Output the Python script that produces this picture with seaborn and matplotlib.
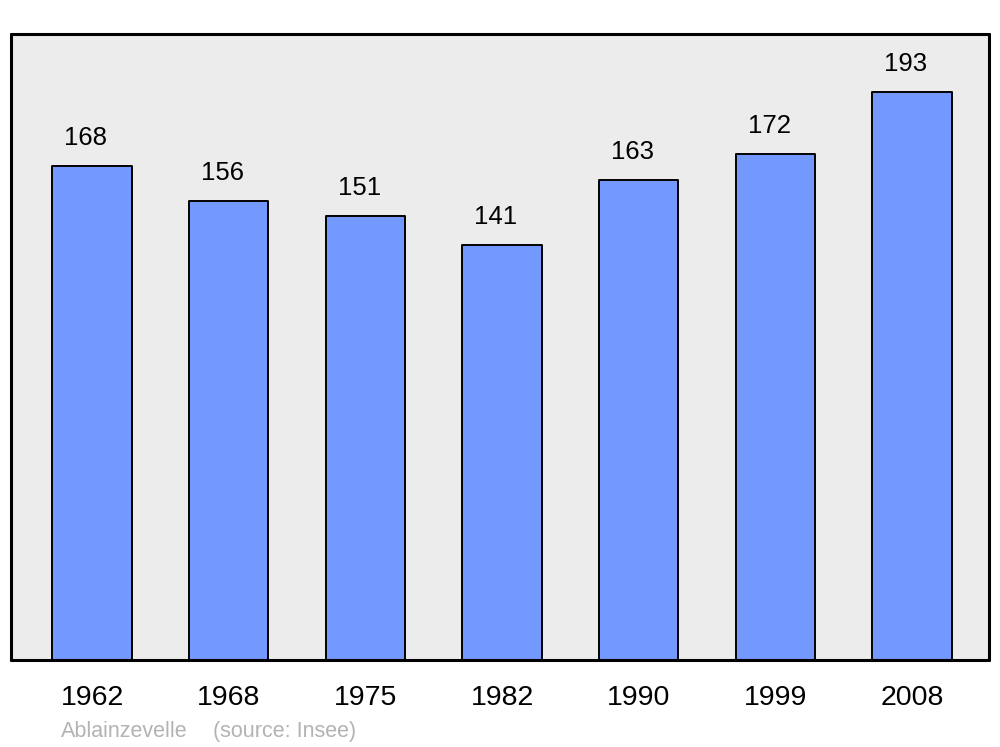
import matplotlib
matplotlib.use("Agg")
import matplotlib.pyplot as plt
import pandas as pd
import seaborn as sns

YEARS = ["1962", "1968", "1975", "1982", "1990", "1999", "2008"]
POPULATION = [168, 156, 151, 141, 163, 172, 193]
COMMUNE = "Ablainzevelle"
SOURCE = "(source: Insee)"

BAR = "#7399ff"
BG = "#ececec"


def main():
    sns.set_style("white")
    plt.rcParams["font.family"] = ["Liberation Sans", "DejaVu Sans"]
    plt.rcParams["text.color"] = "black"
    plt.rcParams["xtick.color"] = "black"

    df = pd.DataFrame({"year": YEARS, "pop": POPULATION})
    fig = plt.figure(figsize=(10, 7.47), dpi=100)
    ax = fig.add_axes([0.011, 0.1165, 0.978, 0.838])
    ax.set_facecolor(BG)

    sns.barplot(data=df, x="year", y="pop", order=YEARS, color=BAR,
                saturation=1, width=0.58, edgecolor="black", linewidth=1.4,
                ax=ax)
    for p in ax.patches:
        p.set_joinstyle("round")

    # value labels sit a touch left of the bar centre in the original
    for i, v in enumerate(POPULATION):
        ax.annotate(f"{v}", (i, v), xytext=(-4.5, 20), textcoords="offset points",
                    ha="center", va="center", fontsize=18.5, color="black")

    ax.set_xlim(-0.593, 6.563)
    ax.set_ylim(0, 212.7)
    ax.set_yticks([])
    ax.set_xlabel("")
    ax.set_ylabel("")
    ax.tick_params(axis="x", length=0, pad=18, labelsize=20.5,
                   labelcolor="black")
    for s in ax.spines.values():
        s.set_visible(True)
        s.set_color("black")
        s.set_linewidth(2.2)
        s.set_joinstyle("round")
        s.set_capstyle("round")

    fig.text(0.061, 0.013, COMMUNE, color="#b3b3b3", fontsize=15.5,
             ha="left", va="baseline")
    fig.text(0.213, 0.013, SOURCE, color="#b3b3b3", fontsize=15.5,
             ha="left", va="baseline")

    fig.savefig("out.png", dpi=100)
    plt.close(fig)


if __name__ == "__main__":
    main()
